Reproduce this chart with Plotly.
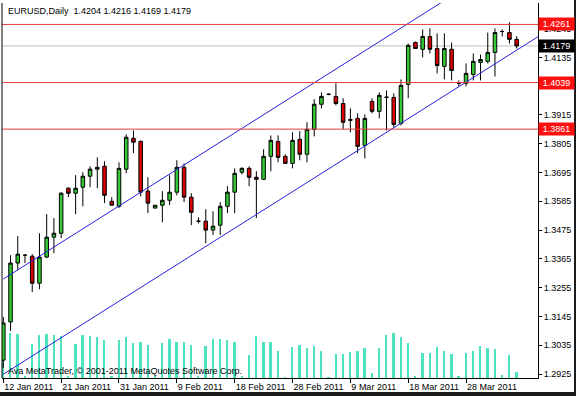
import datetime as dt
import plotly.graph_objects as go

# ---- data (EURUSD, Daily) ----
dates = [
    "2011-01-12", "2011-01-13", "2011-01-14", "2011-01-16", "2011-01-17", "2011-01-18",
    "2011-01-19", "2011-01-20", "2011-01-21", "2011-01-23", "2011-01-24", "2011-01-25",
    "2011-01-26", "2011-01-27", "2011-01-28", "2011-01-30", "2011-01-31", "2011-02-01",
    "2011-02-02", "2011-02-03", "2011-02-04", "2011-02-06", "2011-02-07", "2011-02-08",
    "2011-02-09", "2011-02-10", "2011-02-11", "2011-02-13", "2011-02-14", "2011-02-15",
    "2011-02-16", "2011-02-17", "2011-02-18", "2011-02-20", "2011-02-21", "2011-02-22",
    "2011-02-23", "2011-02-24", "2011-02-25", "2011-02-27", "2011-02-28", "2011-03-01",
    "2011-03-02", "2011-03-03", "2011-03-04", "2011-03-06", "2011-03-07", "2011-03-08",
    "2011-03-09", "2011-03-10", "2011-03-11", "2011-03-13", "2011-03-14", "2011-03-15",
    "2011-03-16", "2011-03-17", "2011-03-18", "2011-03-20", "2011-03-21", "2011-03-22",
    "2011-03-23", "2011-03-24", "2011-03-25", "2011-03-27", "2011-03-28", "2011-03-29",
    "2011-03-30", "2011-03-31", "2011-04-01", "2011-04-03", "2011-04-04", "2011-04-05",
]

open_ = [
    1.2978, 1.3124, 1.3349, 1.3379, 1.3375, 1.3272, 1.3372, 1.3448, 1.3463, 1.3635,
    1.3616, 1.3639, 1.3681, 1.3708, 1.3719, 1.3585, 1.3566, 1.3708, 1.3826, 1.3814,
    1.3624, 1.3559, 1.3570, 1.3589, 1.3620, 1.3715, 1.3601, 1.3509, 1.3509, 1.3475,
    1.3494, 1.3566, 1.3620, 1.3696, 1.3711, 1.3677, 1.3669, 1.3757, 1.3814, 1.3757,
    1.3730, 1.3822, 1.3765, 1.3860, 1.3956, 1.3994, 1.3986, 1.3959, 1.3898, 1.3902,
    1.3799, 1.3967, 1.3929, 1.3982, 1.3982, 1.3883, 1.4032, 1.4192, 1.4166, 1.4215,
    1.4169, 1.4101, 1.4166, 1.4036, 1.4036, 1.4070, 1.4116, 1.4120, 1.4154, 1.4234,
    1.4230, 1.4204,
]
high = [
    1.3143, 1.3379, 1.3452, 1.3383, 1.3383, 1.3463, 1.3536, 1.3521, 1.3620, 1.3639,
    1.3685, 1.3696, 1.3719, 1.3753, 1.3738, 1.3601, 1.3734, 1.3841, 1.3856, 1.3818,
    1.3677, 1.3570, 1.3624, 1.3685, 1.3742, 1.3730, 1.3616, 1.3524, 1.3555, 1.3547,
    1.3582, 1.3643, 1.3711, 1.3715, 1.3719, 1.3700, 1.3784, 1.3837, 1.3837, 1.3765,
    1.3849, 1.3853, 1.3887, 1.3975, 1.4001, 1.3998, 1.4036, 1.3979, 1.3940, 1.3921,
    1.3917, 1.3979, 1.4001, 1.4009, 1.3998, 1.4051, 1.4188, 1.4196, 1.4242, 1.4246,
    1.4227, 1.4227, 1.4192, 1.4047, 1.4112, 1.4150, 1.4146, 1.4230, 1.4246, 1.4242,
    1.4269, 1.4216,
]
low = [
    1.2948, 1.3089, 1.3322, 1.3349, 1.3238, 1.3249, 1.3368, 1.3387, 1.3444, 1.3601,
    1.3536, 1.3566, 1.3639, 1.3635, 1.3578, 1.3570, 1.3559, 1.3692, 1.3769, 1.3604,
    1.3540, 1.3559, 1.3505, 1.3570, 1.3608, 1.3582, 1.3494, 1.3501, 1.3425, 1.3456,
    1.3456, 1.3540, 1.3540, 1.3688, 1.3643, 1.3521, 1.3666, 1.3700, 1.3734, 1.3730,
    1.3711, 1.3742, 1.3734, 1.3833, 1.3940, 1.3990, 1.3952, 1.3860, 1.3849, 1.3769,
    1.3749, 1.3921, 1.3902, 1.3856, 1.3868, 1.3875, 1.3979, 1.4169, 1.4135, 1.4150,
    1.4074, 1.4051, 1.4047, 1.4024, 1.4024, 1.4047, 1.4047, 1.4112, 1.4062, 1.4215,
    1.4188, 1.4169,
]
close = [
    1.3120, 1.3349, 1.3383, 1.3379, 1.3272, 1.3372, 1.3448, 1.3463, 1.3616, 1.3616,
    1.3635, 1.3681, 1.3708, 1.3715, 1.3608, 1.3570, 1.3711, 1.3830, 1.3811, 1.3620,
    1.3578, 1.3570, 1.3589, 1.3620, 1.3715, 1.3601, 1.3543, 1.3509, 1.3475, 1.3490,
    1.3566, 1.3620, 1.3692, 1.3711, 1.3677, 1.3669, 1.3757, 1.3818, 1.3753, 1.3730,
    1.3818, 1.3765, 1.3860, 1.3956, 1.3986, 1.3994, 1.3959, 1.3887, 1.3895, 1.3795,
    1.3902, 1.3929, 1.3990, 1.3983, 1.3879, 1.4028, 1.4181, 1.4169, 1.4215, 1.4166,
    1.4104, 1.4169, 1.4085, 1.4036, 1.4074, 1.4120, 1.4127, 1.4154, 1.4230, 1.4234,
    1.4204, 1.4179,
]
volume = [
    4000, 4500, 4400, 200, 3400, 4300, 4400, 4300, 4200, 200,
    3400, 4300, 4200, 4100, 3800, 200, 3800, 4100, 3500, 3600,
    3300, 200, 3500, 3900, 3600, 3600, 3300, 200, 3200, 3900,
    3900, 3800, 3600, 200, 2300, 4200, 3600, 3600, 2700, 100,
    3100, 3300, 3000, 3200, 2700, 100, 2400, 2400, 2600, 2700,
    3000, 500, 3000, 4300, 4500, 4100, 3500, 200, 2500, 2500,
    3100, 2700, 2400, 200, 2500, 2700, 3200, 3000, 2900, 300,
    2300, 600,
]

# horizontal levels, bid line, channel anchors
levels = [1.4261, 1.4039, 1.3861]
bid = 1.4179
channel_x = [0, 74]
lower_channel = [1.2924, 1.4215]
upper_channel = [1.3288, 1.4579]

price_ticks = [1.2925, 1.3035, 1.3145, 1.3255, 1.3365, 1.3475, 1.3585,
               1.3695, 1.3805, 1.3915, 1.4025, 1.4135, 1.4245]
title_text = "EURUSD,Daily  1.4204 1.4216 1.4169 1.4179"
copyright_text = "Ava MetaTrader, © 2001-2011 MetaQuotes Software Corp."

# ---- figure ----
idx = list(range(len(dates)))
tick_idx = idx[::8]
def fmt(s):
    d = dt.date.fromisoformat(s)
    return f"{d.day} {d.strftime('%b %Y')}"
tick_text = [fmt(dates[i]) for i in tick_idx]

FONT = "Liberation Sans"

fig = go.Figure()
fig.add_trace(go.Bar(
    x=idx, y=volume, yaxis="y", width=0.25,
    marker=dict(color="#4de3c1", line=dict(width=0)),
    showlegend=False, hoverinfo="skip",
))
fig.add_trace(go.Candlestick(
    x=idx, open=open_, high=high, low=low, close=close, yaxis="y2",
    increasing=dict(line=dict(color="black", width=1), fillcolor="#34c934"),
    decreasing=dict(line=dict(color="black", width=1), fillcolor="#d80000"),
    whiskerwidth=0, showlegend=False,
))
for ys in (lower_channel, upper_channel):
    fig.add_trace(go.Scatter(
        x=channel_x, y=ys, yaxis="y2", mode="lines",
        line=dict(color="#2222d8", width=1), showlegend=False, hoverinfo="skip",
    ))

shapes = []
for lv in levels:
    shapes.append(dict(type="line", xref="paper", x0=0, x1=1, yref="y2", y0=lv, y1=lv,
                       line=dict(color="#e63c3c", width=1)))
shapes.append(dict(type="line", xref="paper", x0=0, x1=1, yref="y2", y0=bid, y1=bid,
                   line=dict(color="#c0c0c0", width=1), layer="below"))
# left frame line
shapes.append(dict(type="line", xref="paper", yref="paper", x0=0, x1=0, y0=0, y1=1,
                   line=dict(color="black", width=1)))
# window shadow frame (right and bottom)
shapes.append(dict(type="rect", xref="paper", yref="paper", x0=1.0672, x1=1.09, y0=-0.06, y1=1.02,
                   line=dict(width=0), fillcolor="#1a1a1a"))
shapes.append(dict(type="rect", xref="paper", yref="paper", x0=-0.01, x1=1.09, y0=-0.06, y1=-0.0373,
                   line=dict(width=0), fillcolor="#1a1a1a"))

annotations = []
for lv in levels:
    annotations.append(dict(xref="paper", x=1, xanchor="left", yref="y2", y=lv, yanchor="middle",
                            text=f"{lv:.4f}", showarrow=False, bgcolor="#ff1010",
                            font=dict(family=FONT, size=9, color="white"),
                            width=33, height=10, borderpad=1, align="center"))
annotations.append(dict(xref="paper", x=1, xanchor="left", yref="y2", y=bid, yanchor="middle",
                        text=f"{bid:.4f}", showarrow=False, bgcolor="black",
                        font=dict(family=FONT, size=9, color="white"),
                        width=33, height=10, borderpad=1, align="center"))
annotations.append(dict(xref="paper", yref="paper", x=0, y=1, xanchor="left", yanchor="top",
                        xshift=4, yshift=-1, text=title_text, showarrow=False,
                        font=dict(family=FONT, size=9, color="black")))
annotations.append(dict(xref="paper", yref="paper", x=0, y=0, xanchor="left", yanchor="bottom",
                        xshift=4, yshift=0, text=copyright_text, showarrow=False,
                        font=dict(family=FONT, size=9, color="black")))

fig.update_layout(
    width=576, height=396,
    margin=dict(l=2, r=38, t=3, b=18),
    paper_bgcolor="white", plot_bgcolor="white",
    font=dict(family=FONT, size=9, color="black"),
    bargap=0, boxgap=0.3,
    xaxis=dict(range=[-0.18, 73.95], tickvals=tick_idx, ticktext=tick_text,
               ticks="outside", ticklen=4, tickcolor="black", tickangle=0,
               ticklabelposition="outside right",
               showline=True, linecolor="black", linewidth=1,
               showgrid=False, zeroline=False, rangeslider=dict(visible=False),
               fixedrange=True),
    yaxis=dict(range=[0, 37500], autorange=False, showticklabels=False, ticks="",
               showline=False, showgrid=False, zeroline=False, fixedrange=True),
    yaxis2=dict(range=[1.29097, 1.43430], autorange=False, overlaying="y", side="right",
                tickvals=price_ticks, ticktext=[f"{t:.4f}" for t in price_ticks],
                ticks="outside", ticklen=3, tickcolor="black",
                showline=True, linecolor="black", linewidth=1,
                showgrid=False, zeroline=False, fixedrange=True),
    shapes=shapes, annotations=annotations,
    showlegend=False,
)

fig.write_html("out.html")
